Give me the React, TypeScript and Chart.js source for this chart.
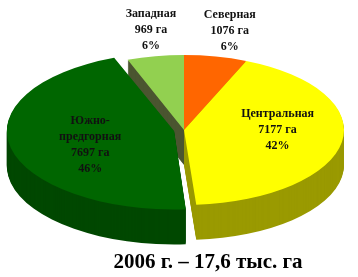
import React, { useEffect, useRef } from "react";
import { Chart, registerables } from "chart.js";

Chart.register(...registerables);

// ---- data ----
const regions = ["Северная", "Центральная", "Южно-\nпредгорная", "Западная"];
const areas = [1076, 7177, 7697, 969];
const percentLabels = ["6%", "42%", "46%", "6%"];
const titleText = "2006 г. – 17,6 тыс. га";

// ---- styles ----
const topColors = ["#FF6600", "#FFFF00", "#006600", "#92D050"];
const sideColors = ["#B54800", "#9A9A00", "#004800", "#4B5530"];
const explode = [0, 0, 28, 0];

// ---- 3D projection / label layout ----
const CX = 184;
const CY = 130;
const RX = 160;
const RY = 75;
const DEPTH = 35;
const labelRadius = [1.35, 0.585, 0.62, 1.35];
const labelAngleShift = [0.8, -9, -6.4, 1.5];
const SERIF = '"Liberation Serif", "Times New Roman", serif';

const pie3d = {
  id: "pie3d",
  beforeDatasetsDraw(chart: any) {
    const arcs = chart.getDatasetMeta(0).data;
    if (!arcs.length) return;
    const a0 = arcs[0];
    const R = a0.outerRadius;
    const sx = RX / R;
    const sy = RY / R;
    const ctx = chart.ctx;
    ctx.save();
    ctx.translate(CX, CY);
    ctx.scale(sx, sy);
    ctx.translate(-a0.x, -a0.y);
    for (let d = DEPTH; d >= 1; d--) {
      arcs.forEach((arc: any, i: number) => {
        const orig = arc.options;
        arc.options = { ...orig, backgroundColor: sideColors[i], borderWidth: 0 };
        ctx.save();
        ctx.translate(0, d / sy);
        arc.draw(ctx);
        ctx.restore();
        arc.options = orig;
      });
    }
  },
  afterDatasetsDraw(chart: any) {
    const ctx = chart.ctx;
    ctx.restore();
    const arcs = chart.getDatasetMeta(0).data;
    ctx.save();
    ctx.fillStyle = "#111";
    ctx.font = `bold 12px ${SERIF}`;
    ctx.textAlign = "center";
    ctx.textBaseline = "middle";
    const lh = 16;
    arcs.forEach((arc: any, i: number) => {
      const mid = (arc.startAngle + arc.endAngle) / 2 + (labelAngleShift[i] * Math.PI) / 180;
      const px = CX + labelRadius[i] * RX * Math.cos(mid);
      const py = CY + labelRadius[i] * RY * Math.sin(mid);
      const lines = [...regions[i].split("\n"), `${areas[i]} га`, percentLabels[i]];
      const y0 = py - ((lines.length - 1) * lh) / 2;
      lines.forEach((t, k) => ctx.fillText(t, px, y0 + k * lh));
    });
    ctx.restore();
  },
};

export default function App() {
  const ref = useRef<HTMLCanvasElement | null>(null);
  useEffect(() => {
    if (!ref.current) return;
    const chart = new Chart(ref.current, {
      type: "pie",
      data: {
        labels: regions,
        datasets: [
          {
            data: areas,
            backgroundColor: topColors,
            borderWidth: 0,
            offset: explode,
            clip: false,
          } as any,
        ],
      },
      options: {
        responsive: false,
        animation: false,
        events: [],
        layout: { padding: { left: 58, right: 0, top: 0, bottom: 0 } },
        plugins: {
          legend: { display: false },
          tooltip: { enabled: false },
          title: {
            display: true,
            text: titleText,
            position: "bottom",
            color: "#000",
            font: { family: SERIF, size: 21, weight: "bold" },
            padding: { top: 0, bottom: 2 },
          },
        },
      },
      plugins: [pie3d],
    });
    return () => chart.destroy();
  }, []);
  return (
    <div style={{ position: "absolute", left: 0, top: 0, width: 358, height: 277, background: "#fff" }}>
      <canvas ref={ref} width={358} height={277} style={{ display: "block" }} />
    </div>
  );
}
